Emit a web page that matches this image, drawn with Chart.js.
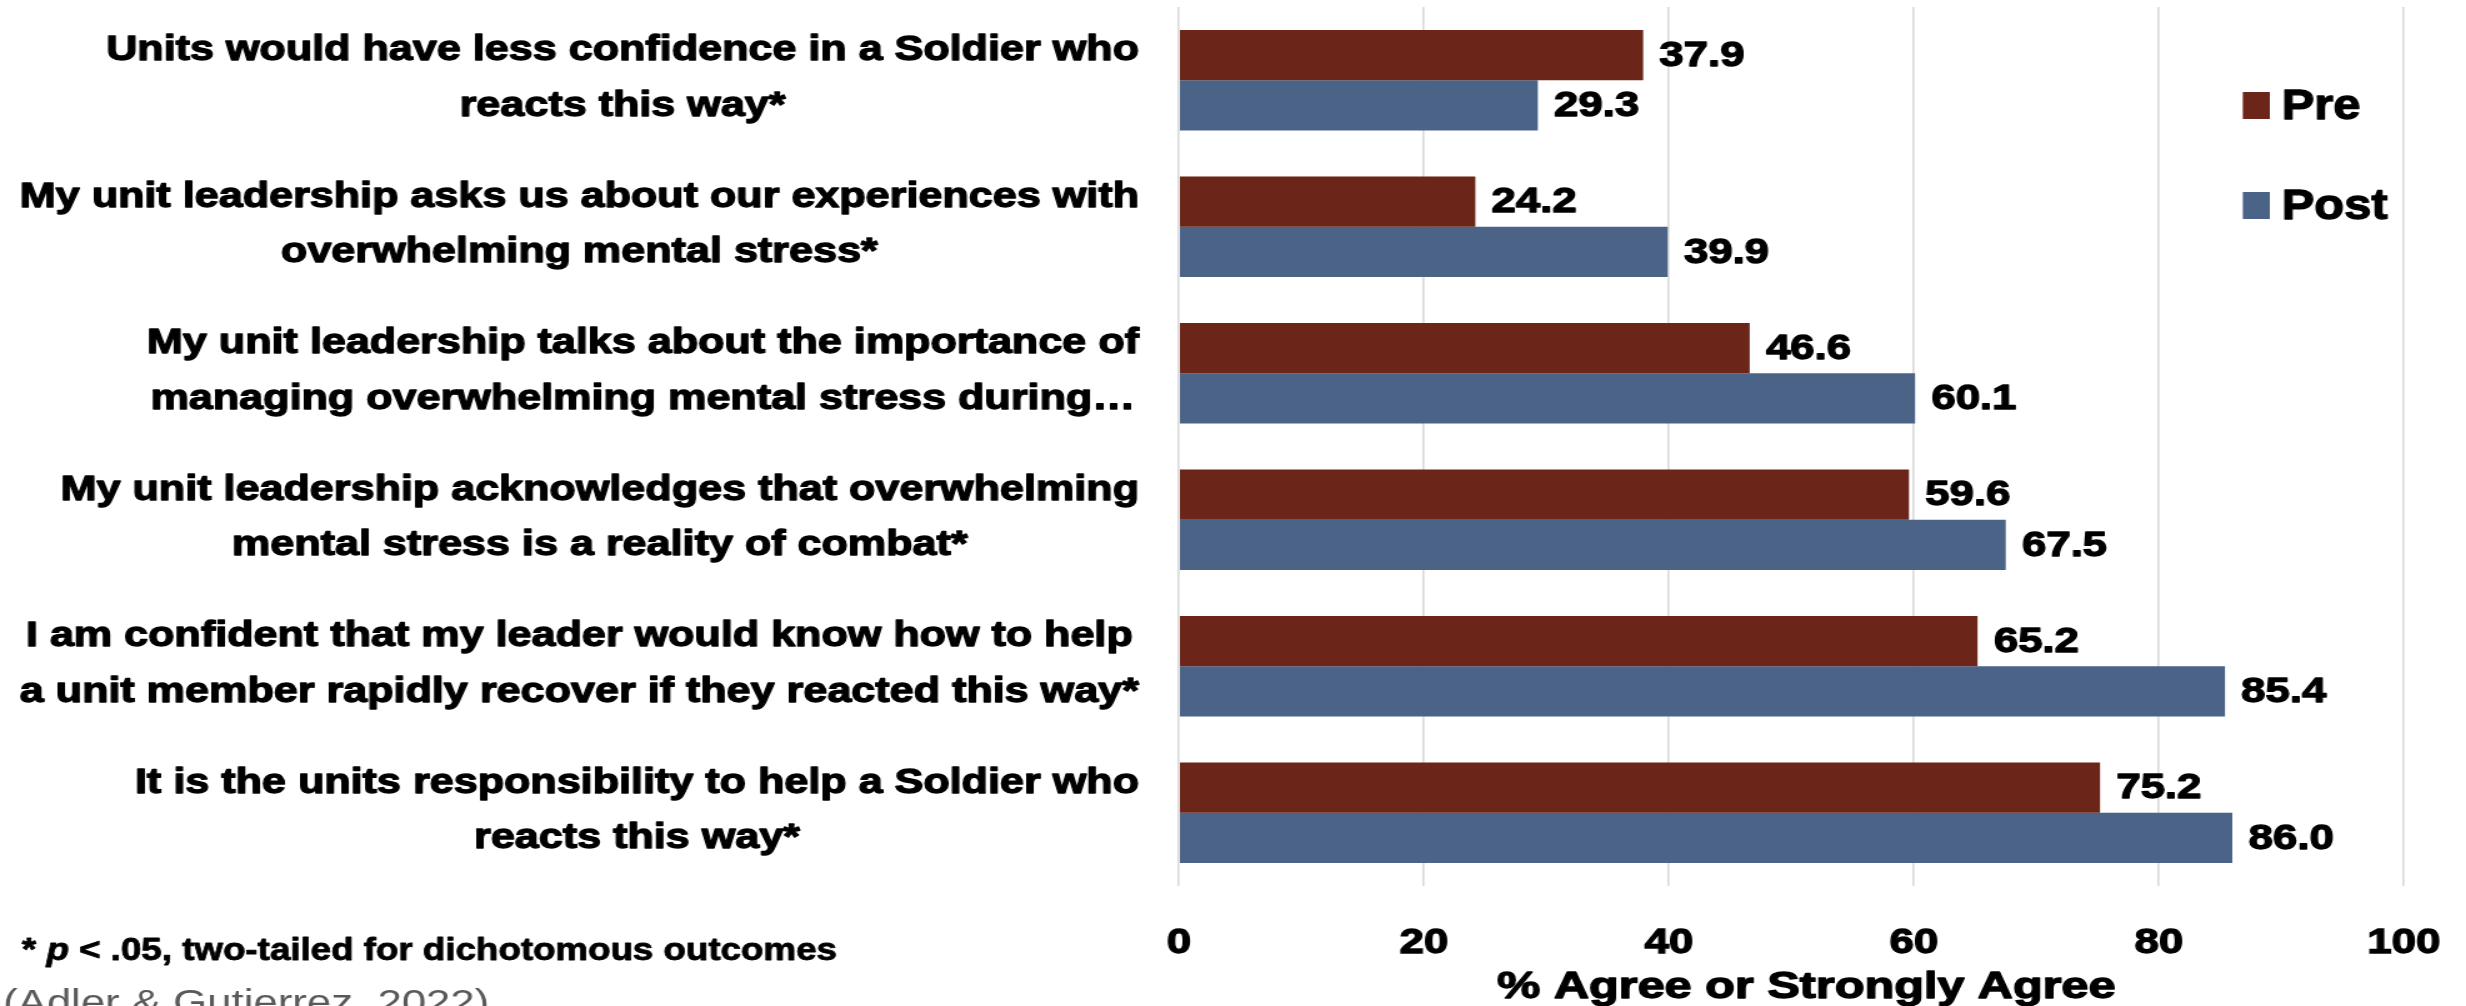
<!DOCTYPE html>
<html>
<head>
<meta charset="utf-8">
<script src="https://cdn.jsdelivr.net/npm/chart.js@4.4.1/dist/chart.umd.min.js"></script>
<style>
  html, body { margin: 0; padding: 0; background: #fff; overflow: hidden; }
  #wrap { width: 1973px; height: 1006px; transform: scaleX(1.2499); transform-origin: 0 0; }
  canvas { display: block; }
</style>
</head>
<body>
<div id="wrap"><canvas id="c" width="1973" height="1006" style="width:1973px;height:1006px"></canvas></div>
<script>
// Survey items (one array of lines per item, top to bottom)
const categories = [
  ['Units would have less confidence in a Soldier who', 'reacts this way*'],
  ['My unit leadership asks us about our experiences with', 'overwhelming mental stress*'],
  ['My unit leadership talks about the importance of', 'managing overwhelming mental stress during\u2026'],
  ['My unit leadership acknowledges that overwhelming', 'mental stress is a reality of combat*'],
  ['I am confident that my leader would know how to help', 'a unit member rapidly recover if they reacted this way*'],
  ['It is the units responsibility to help a Soldier who', 'reacts this way*']
];
const seriesNames = ['Pre', 'Post'];
const preValues = [37.9, 24.2, 46.6, 59.6, 65.2, 75.2];
const postValues = [29.3, 39.9, 60.1, 67.5, 85.4, 86.0];
const xTickValues = [0, 20, 40, 60, 80, 100];
const axisTitle = '% Agree or Strongly Agree';
const footnoteParts = [
  { text: '* ', italic: false },
  { text: 'p', italic: true },
  { text: ' < .05, two-tailed for dichotomous outcomes', italic: false }
];
const citation = '(Adler & Gutierrez, 2022)';

const FAMILY = '"Liberation Sans", Arial, Helvetica, sans-serif';
const PRE_COLOR = '#6B2519';
const POST_COLOR = '#4A6387';
const HEAVY = 1.3; // extra stroke that thickens the bold lettering

Chart.defaults.font.family = FAMILY;
Chart.defaults.color = '#000';

// Filled + stroked text, optionally squeezed horizontally by k
function heavyText(ctx, text, x, y, weight, k) {
  ctx.save();
  ctx.translate(x, y);
  if (k) ctx.scale(k, 1);
  ctx.lineWidth = weight;
  ctx.lineJoin = 'round';
  ctx.strokeStyle = ctx.fillStyle;
  if (weight > 0) ctx.strokeText(text, 0, 0);
  ctx.fillText(text, 0, 0);
  ctx.restore();
}

// Multi-line item labels: each block right-aligned to the axis, lines centred within it
const categoryLabels = {
  id: 'categoryLabels',
  afterDraw(chart) {
    const { ctx, chartArea } = chart;
    const yScale = chart.scales.y;
    ctx.save();
    ctx.font = 'bold 34.5px ' + FAMILY;
    ctx.fillStyle = '#000';
    ctx.textAlign = 'center';
    ctx.textBaseline = 'middle';
    const right = chartArea.left - 32;
    const lineGap = 55.5;
    yScale.getLabels().forEach((lines, i) => {
      const cy = yScale.getPixelForTick(i) - 1.8;
      const w = Math.max(...lines.map(l => ctx.measureText(l).width));
      const cx = right - w / 2;
      lines.forEach((l, k) => {
        heavyText(ctx, l, cx, cy + (k - (lines.length - 1) / 2) * lineGap, HEAVY);
      });
    });
    ctx.restore();
  }
};

// Value labels at the end of each bar
const valueLabels = {
  id: 'valueLabels',
  afterDatasetsDraw(chart) {
    const { ctx } = chart;
    ctx.save();
    ctx.font = 'bold 35px ' + FAMILY;
    ctx.fillStyle = '#000';
    ctx.textAlign = 'left';
    ctx.textBaseline = 'middle';
    chart.data.datasets.forEach((ds, di) => {
      const meta = chart.getDatasetMeta(di);
      meta.data.forEach((bar, i) => {
        heavyText(ctx, ds.data[i].toFixed(1), bar.x + 13, bar.y + 1, HEAVY);
      });
    });
    ctx.restore();
  }
};

// Axis title, legend inside the plot, footnote and source line
const extras = {
  id: 'extras',
  afterDraw(chart) {
    const { ctx, chartArea } = chart;
    ctx.save();
    ctx.textBaseline = 'alphabetic';
    // x-axis title
    ctx.font = 'bold 36px ' + FAMILY;
    ctx.fillStyle = '#000';
    ctx.textAlign = 'center';
    heavyText(ctx, axisTitle, (chartArea.left + chartArea.right) / 2 + 12, 997.5, HEAVY, 1.08);
    // legend
    const keyX = 1794.4, keyW = 21.6, keyH = 27;
    const keyTops = [92, 192];
    ctx.font = 'bold 43px ' + FAMILY;
    ctx.textAlign = 'left';
    chart.data.datasets.forEach((ds, i) => {
      ctx.fillStyle = ds.backgroundColor;
      ctx.fillRect(keyX, keyTops[i], keyW, keyH);
      ctx.fillStyle = '#000';
      heavyText(ctx, ds.label, keyX + 31, keyTops[i] + 27, HEAVY, 0.91);
    });
    // significance footnote, fitted to its line length
    const fnFont = p => (p.italic ? 'italic ' : '') + 'bold 32px ' + FAMILY;
    let natural = 0;
    footnoteParts.forEach(p => { ctx.font = fnFont(p); natural += ctx.measureText(p.text).width; });
    const k = 652 / natural;
    let x = 17.6;
    footnoteParts.forEach(p => {
      ctx.font = fnFont(p);
      ctx.fillStyle = '#000';
      heavyText(ctx, p.text, x, 960, 0.9, k);
      x += ctx.measureText(p.text).width * k;
    });
    // source
    ctx.font = '35px ' + FAMILY;
    ctx.fillStyle = '#595959';
    ctx.fillText(citation, 2.4, 1014);
    ctx.restore();
  }
};

new Chart(document.getElementById('c'), {
  type: 'bar',
  data: {
    labels: categories,
    datasets: [
      { label: seriesNames[0], data: preValues, backgroundColor: PRE_COLOR },
      { label: seriesNames[1], data: postValues, backgroundColor: POST_COLOR }
    ]
  },
  options: {
    indexAxis: 'y',
    responsive: false,
    animation: false,
    events: [],
    layout: { padding: { top: 7, right: 49.8, bottom: 0, left: 0 } },
    datasets: { bar: { categoryPercentage: 0.686, barPercentage: 1.0, borderWidth: 0 } },
    plugins: { legend: { display: false }, tooltip: { enabled: false } },
    scales: {
      x: {
        min: xTickValues[0],
        max: xTickValues[xTickValues.length - 1],
        afterBuildTicks(scale) { scale.ticks = xTickValues.map(v => ({ value: v })); },
        afterFit(scale) {
          scale.height = 120;
          scale.paddingLeft = 0;
          scale.paddingRight = 0;
        },
        grid: { color: '#d9d9d9', lineWidth: 1.6, drawTicks: false },
        border: { display: false },
        ticks: {
          padding: 36,
          font: { size: 35, weight: 'bold' },
          color: '#000',
          textStrokeColor: '#000',
          textStrokeWidth: HEAVY
        },
        title: { display: false }
      },
      y: {
        afterFit(scale) { scale.width = 943.2; },
        grid: { display: false },
        border: { display: false },
        ticks: { display: false }
      }
    }
  },
  plugins: [categoryLabels, valueLabels, extras]
});
</script>
</body>
</html>
